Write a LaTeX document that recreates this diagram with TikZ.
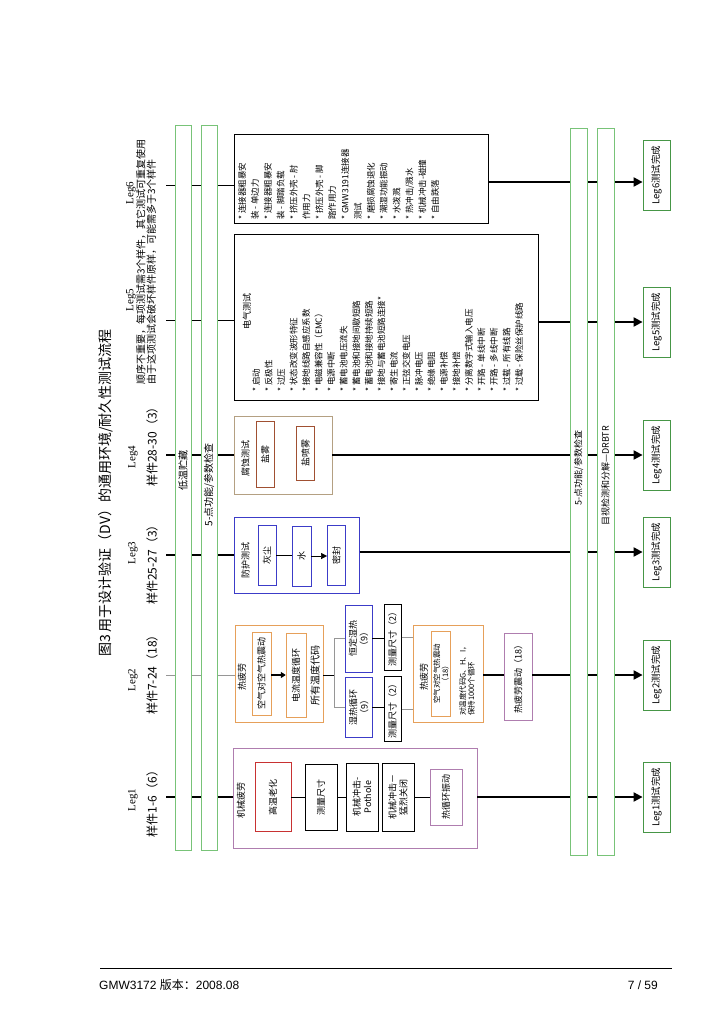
\documentclass[tikz,border=0pt]{standalone}
\usepackage{fontspec}
\setmainfont{Noto Sans CJK SC}
\newfontfamily\legfont{Liberation Serif}
\newfontfamily\footfont{Liberation Sans}
\usetikzlibrary{arrows.meta}

\definecolor{barGreen}{RGB}{120,195,120}
\definecolor{endGreen}{RGB}{70,150,70}
\definecolor{legPurple}{RGB}{175,125,175}
\definecolor{agingRed}{RGB}{200,50,50}
\definecolor{fatOrange}{RGB}{230,160,90}
\definecolor{protBlue}{RGB}{60,60,200}
\definecolor{corrTan}{RGB}{180,160,130}
\definecolor{corrBrown}{RGB}{160,80,50}
\definecolor{flowGray}{RGB}{150,150,150}

\begin{document}
\begin{tikzpicture}[
  x=1pt, y=-1pt,
  vbox/.style={
    draw,
    fill=white,
    rotate=90,
    inner sep=0pt,
    align=center,
    font=\fontsize{9}{11}\selectfont
  },
  vtext/.style={
    rotate=90,
    inner sep=0pt,
    align=center,
    font=\fontsize{9}{11}\selectfont
  },
  bar/.style={
    draw=barGreen,
    fill=white,
    rotate=90,
    inner sep=0pt
  },
  endbox/.style={
    draw=endGreen,
    thick,
    fill=white,
    rotate=90,
    inner sep=0pt,
    minimum width=70pt,
    minimum height=27pt,
    font=\fontsize{9.5}{11}\selectfont
  },
  sz/.style 2 args={minimum height=#1, minimum width=#2},
  flow/.style={line width=0.6pt},
  grayflow/.style={draw=flowGray, line width=0.6pt},
  thickflow/.style={line width=2pt},
  finish/.style={line width=2pt, -{Triangle[length=9pt,width=9pt]}}
]
\useasboundingbox (0,0) rectangle (724,1024);

% Title and leg labels
\node[vtext, font=\fontsize{14}{16}\selectfont] (title) at (106,493)
  {图3 用于设计验证（DV）的通用环境/耐久性测试流程};

\node[vtext, font=\legfont\fontsize{11}{13}\selectfont] (leg1) at (133,800) {Leg1};
\node[vtext, font=\fontsize{12}{14}\selectfont] (pcs1) at (152,801) {样件1-6（6）};
\node[vtext, font=\legfont\fontsize{11}{13}\selectfont] (leg2) at (133,680) {Leg2};
\node[vtext, font=\fontsize{12}{14}\selectfont] (pcs2) at (152,672) {样件7-24（18）};
\node[vtext, font=\legfont\fontsize{11}{13}\selectfont] (leg3) at (133,553) {Leg3};
\node[vtext, font=\fontsize{12}{14}\selectfont] (pcs3) at (152,562) {样件25-27（3）};
\node[vtext, font=\legfont\fontsize{11}{13}\selectfont] (leg4) at (133,457) {Leg4};
\node[vtext, font=\fontsize{12}{14}\selectfont] (pcs4) at (152,444) {样件28-30（3）};
\node[vtext, font=\legfont\fontsize{11}{13}\selectfont] (leg5) at (131,300) {Leg5};
\node[vtext, font=\legfont\fontsize{11}{13}\selectfont] (leg6) at (131,193) {Leg6};
\node[vtext, align=left, anchor=north west, font=\fontsize{10}{9}\selectfont] (note5) at (136,385)
  {顺序不重要，每项测试需3个样件，其它测试可重复使用\\由于这项测试会破坏样件原样，可能需多于3个样件};

% Leg1
\node[vbox, draw=legPurple, sz={244}{100}] (mech) at (355,798) {};
\node[vtext] (mechT) at (241,800) {机械疲劳};
\node[vbox, draw=agingRed, sz={36}{69}] (aging) at (273,797) {高温老化};
\node[vbox, sz={32}{66}] (meas) at (321,797) {测量尺寸};
\node[vbox, sz={32}{68}] (pothole) at (362,797) {机械冲击-\\Pothole};
\node[vbox, sz={32}{68}] (slam) at (398,797) {机械冲击－\\猛烈关闭};
\node[vbox, draw=legPurple, sz={32}{56}] (tcvib) at (446,797) {热循环振动};

% Leg2
\node[vbox, draw=fatOrange, sz={88}{97}] (fatA) at (279,673.5) {};
\node[vtext] (fatAT) at (242,677) {热疲劳};
\node[vbox, draw=fatOrange, sz={19}{83}] (shockA) at (261.5,673.5) {空气对空气热震动};
\node[vbox, draw=fatOrange, sz={20}{84}] (cycA) at (296,675) {电流温度循环};
\node[vtext, font=\fontsize{10}{11}\selectfont] (codes) at (315,675) {所有温度代码};
\node[vbox, draw=protBlue, sz={27}{67}] (hum1) at (358.5,638.5) {恒定湿热\\（9）};
\node[vbox, draw=protBlue, sz={27}{60}] (hum2) at (358.7,707) {湿热循环\\（9）};
\node[vbox, sz={17.6}{66.7}] (meas1) at (392.5,637.3) {测量尺寸（2）};
\node[vbox, sz={17.6}{65.7}] (meas2) at (392.5,708.8) {测量尺寸（2）};
\node[vbox, draw=fatOrange, sz={69.3}{97.7}] (fatB) at (448.3,673.8) {};
\node[vtext] (fatBT) at (424,677) {热疲劳};
\node[vbox, draw=fatOrange, sz={19.3}{84.3}, font=\fontsize{7.5}{8.5}\selectfont] (shockB) at (441,673.8)
  {空气对空气热震动\\（18）};
\node[vtext, align=left, anchor=north west, font=\fontsize{7.5}{8.5}\selectfont] (shockBT) at (459,716)
  {对温度代码G、H、I，\\保持1000个循环};
\node[vbox, draw=legPurple, sz={27.3}{86.7}] (fatV) at (518.3,676.5) {热疲劳震动（18）};

% Leg3
\node[vbox, draw=protBlue, sz={125}{76}] (prot) at (297,555.3) {};
\node[vtext] (protT) at (245.5,560) {防护测试};
\node[vbox, draw=protBlue, sz={18}{60}] (dust) at (267,555) {灰尘};
\node[vbox, draw=protBlue, sz={18.4}{60}] (water) at (301.5,556) {水};
\node[vbox, draw=protBlue, sz={18}{60}] (seal) at (336.3,555) {密封};

% Leg4
\node[vbox, draw=corrTan, sz={98}{78.3}] (corr) at (283,455.2) {};
\node[vtext] (corrT) at (245.5,458) {腐蚀测试};
\node[vbox, draw=corrBrown, sz={17.7}{65.7}] (salt) at (265.2,454.5) {盐雾};
\node[vbox, draw=corrBrown, sz={18.3}{53.3}] (spray) at (305.5,453.3) {盐喷雾};

% Leg5
\node[vbox, sz={304.7}{165.7}] (elec) at (386.3,317.2) {};
\node[vtext] (elecT) at (247,311) {电气测试};
\node[vtext, align=left, anchor=north west, font=\fontsize{8.5}{12.52}\selectfont] (elecList) at (252,392)
  {* 启动\\* 反极性\\* 过压\\* 状态改变波形特征\\* 接地线路自感应系数\\* 电磁兼容性（EMC）\\
   * 电源中断\\* 蓄电池电压流失\\* 蓄电池和接地间歇短路\\* 蓄电池和接地持续短路\\
   * 接地与蓄电池短路连接*\\* 寄生电流\\* 正弦交变电压\\* 脉冲电压\\* 绝缘电阻\\
   * 电源补偿\\* 接地补偿\\* 分离数字式输入电压\\* 开路 - 单线中断\\* 开路 - 多线中断\\
   * 过载 - 所有线路\\* 过载 - 保险丝保护线路};

% Leg6
\node[vbox, sz={254}{89}] (conn) at (361,178.8) {};
\node[vtext, align=left, anchor=north west, font=\fontsize{8.5}{12.87}\selectfont] (connList) at (238,220)
  {* 连接器粗暴安\\装 - 单边力\\* 连接器粗暴安\\装 - 脚踏负载\\* 挤压外壳 - 肘\\作用力\\
   * 挤压外壳 - 脚\\踏作用力\\* GMW3191连接器\\测试\\* 磨损腐蚀退化\\* 潮湿功能振动\\
   * 水泼溅\\* 热冲击/溅水\\* 机械冲击-碰撞\\* 自由跌落};

% End boxes
\node[endbox] (end1) at (656.5,797) {Leg1测试完成};
\node[endbox] (end2) at (656.5,675) {Leg2测试完成};
\node[endbox] (end3) at (656.5,552) {Leg3测试完成};
\node[endbox] (end4) at (656.5,455) {Leg4测试完成};
\node[endbox] (end5) at (656.5,322) {Leg5测试完成};
\node[endbox] (end6) at (656.5,175) {Leg6测试完成};

% Flow lines
\coordinate (s1) at (166,797);
\coordinate (s2) at (166,675);
\coordinate (s3) at (166,555);
\coordinate (s4) at (166,455);
\coordinate (s5) at (166,320);
\coordinate (s6) at (166,185);
\coordinate (fork) at (334,675);
\coordinate (e6) at (600,182);

\draw[thickflow] (s1) -- (s1 -| mech.north);
\draw[grayflow] (s2) -- (s2 -| fatA.north);
\draw[thickflow] (s3) -- (s3 -| prot.north);
\draw[thickflow] (s4) -- (s4 -| corr.north);
\draw[flow] (s5) -- (s5 -| elec.north);
\draw[flow] (s6) -- (s6 -| conn.north);

\draw[flow] (aging.south) -- (aging.south -| meas.north);
\draw[flow] (meas.south) -- (meas.south -| pothole.north);
\draw[flow] (slam.south) -- (slam.south -| tcvib.north);

\draw[-{Triangle[length=5pt,width=6pt]}, line width=1.2pt] (shockA.south |- cycA) -- (cycA.north);
\draw[flow] (fatA.south |- fork) -- (fork);
\draw[grayflow] (fork |- hum1) -- (fork |- hum2);
\draw[grayflow] (fork |- hum1) -- (hum1.north);
\draw[grayflow] (fork |- hum2) -- (hum2.north);
\draw[flow] (hum1.south) -- (hum1.south -| meas1.north);
\draw[flow] (hum2.south) -- (hum2.south -| meas2.north);
\draw[grayflow] (meas1.south) -- (meas1.south -| fatB.north);
\draw[grayflow] (meas2.south) -- (meas2.south -| fatB.north);
\draw[thickflow] (fatB.south |- fork) -- (fatV.north |- fork);

\draw[flow] (dust.south) -- (dust.south -| water.north);
\draw[flow, -{Triangle[length=6pt,width=6pt]}] (water.south) -- (water.south -| seal.north);

\draw[finish] (mech.south |- end1) -- (end1.north);
\draw[finish] (fatV.south |- end2) -- (end2.north);
\draw[finish] (prot.south |- end3) -- (end3.north);
\draw[finish] (corr.south |- end4) -- (end4.north);
\draw[finish] (elec.south |- end5) -- (end5.north);
\draw[finish] (conn.south |- e6) -- (e6 -| end6.north);

% Check bars
\node[bar, sz={16}{725}] (cold) at (183,487.5) {};
\node[bar, sz={16}{725}] (checkL) at (209,487.5) {};
\node[bar, sz={17}{727}] (checkR) at (578.5,491.5) {};
\node[bar, sz={17}{727}] (drbtr) at (605.5,491.5) {};
\node[vtext, font=\fontsize{10}{11}\selectfont] (coldT) at (183,470) {低温贮藏};
\node[vtext, font=\fontsize{10}{11}\selectfont] (checkLT) at (209,485) {5-点功能/参数检查};
\node[vtext, font=\fontsize{9}{11}\selectfont] (checkRT) at (578.5,468) {5-点功能/参数检查};
\node[vtext, font=\fontsize{9}{11}\selectfont] (drbtrT) at (605.5,476) {目视检测和分解—DRBTR};

% Footer
\coordinate (footL) at (100,968);
\coordinate (footR) at (672,968);
\draw[line width=0.6pt] (footL) -- (footR);
\node[anchor=west, inner sep=0pt, font=\footfont\fontsize{12}{14}\selectfont] (doc) at (99,985)
  {GMW3172 {\fontspec{Noto Sans CJK SC}版本：}2008.08};
\node[anchor=east, inner sep=0pt, font=\footfont\fontsize{12}{14}\selectfont] (page) at (658,985) {7 / 59};

\end{tikzpicture}
\end{document}
